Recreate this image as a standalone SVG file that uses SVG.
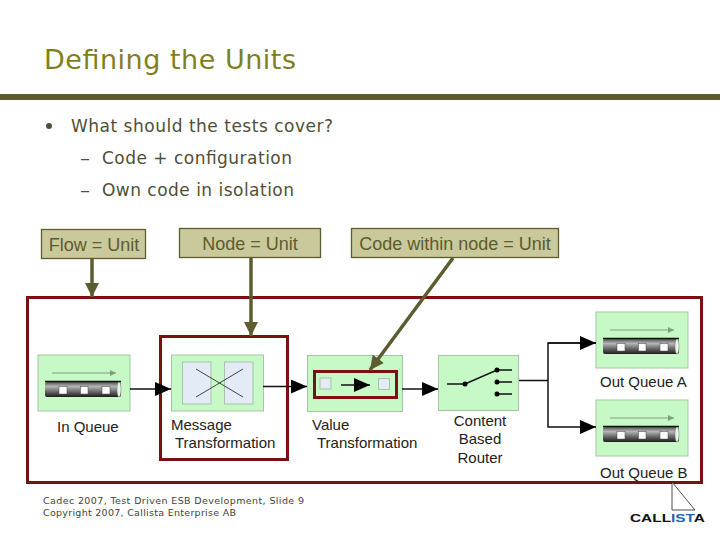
<svg xmlns="http://www.w3.org/2000/svg" xmlns:xlink="http://www.w3.org/1999/xlink" width="720" height="540" viewBox="0 0 720 540">
<style>
.ver{font-family:"DejaVu Sans",Verdana,sans-serif}
.ar{font-family:"Liberation Sans",Arial,sans-serif}
.title{font-size:27px;fill:#7f7f20}
.body{font-size:17px;fill:#4f4f38}
.foot{font-size:9.5px;fill:#444438}
.lbl{font-size:15px;fill:#222}
.call{font-size:18px;fill:#5c5c30}
.panel{fill:#c6f9c6;stroke:#a5c5a5;stroke-width:1}
.callbox{fill:#c9c99b;stroke:#5c5c30;stroke-width:1.3}
.frame{fill:none;stroke:#7a1010;stroke-width:3}
.conn{fill:none;stroke:#111;stroke-width:1.5}
.ol{fill:none;stroke:#5c5c30;stroke-width:3.5}
.inner{fill:#e2ebf6;stroke:#a5c5a5;stroke-width:1}
</style>
<defs>
<linearGradient id="tube" x1="0" y1="0" x2="0" y2="1">
<stop offset="0" stop-color="#555"/><stop offset="0.3" stop-color="#b5b5b5"/><stop offset="0.65" stop-color="#666"/><stop offset="1" stop-color="#1c1c1c"/>
</linearGradient>
<marker id="ah" markerUnits="userSpaceOnUse" markerWidth="17" markerHeight="14" refX="16" refY="7" orient="auto"><path d="M0 0L16 7L0 14Z" fill="#000"/></marker>
<marker id="oh" markerUnits="userSpaceOnUse" markerWidth="15" markerHeight="14" refX="14" refY="7" orient="auto"><path d="M0 0L14 7L0 14Z" fill="#5c5c30"/></marker>
<marker id="thin" markerUnits="userSpaceOnUse" markerWidth="7" markerHeight="6" refX="6" refY="3" orient="auto"><path d="M0 0L6 3L0 6Z" fill="#7f9f7f"/></marker>
<g id="queue">
<rect class="panel" x="0" y="0" width="92" height="56"/>
<path d="M14 18H78" stroke="#7f9f7f" stroke-width="1" fill="none" marker-end="url(#thin)"/>
<rect x="7" y="27" width="76" height="15" rx="2" fill="url(#tube)"/>
<path d="M7 26.500H83" stroke="#111" stroke-width="1.500"/>
<ellipse cx="81" cy="34.500" rx="2" ry="7.500" fill="#e8f5e8" stroke="#777" stroke-width=".5"/>
<rect x="21" y="31.500" width="8" height="7.500" fill="#fff" stroke="#444" stroke-width=".5"/>
<rect x="42.500" y="31.500" width="7.500" height="7.500" fill="#fff" stroke="#444" stroke-width=".5"/>
<rect x="64" y="31.500" width="8" height="7.500" fill="#fff" stroke="#444" stroke-width=".5"/>
</g>
</defs>
<rect width="720" height="540" fill="#fff"/>

<g id="heading">
<text class="ver title" x="44" y="69" textLength="252">Defining the Units</text>
<rect x="0" y="94" width="720" height="6" fill="#5c5c30"/>
<circle cx="49" cy="126" r="3" fill="#4f4f38"/>
<text class="ver body" x="71" y="132" textLength="262">What should the tests cover?</text>
<text class="ver body" x="80" y="164" textLength="10" lengthAdjust="spacingAndGlyphs">–</text>
<text class="ver body" x="102" y="164" textLength="190">Code + configuration</text>
<text class="ver body" x="80" y="196" textLength="10" lengthAdjust="spacingAndGlyphs">–</text>
<text class="ver body" x="102" y="196" textLength="192">Own code in isolation</text>
</g>

<rect id="flow-frame" class="frame" x="27.500" y="297.500" width="674" height="185"/>

<g id="in-queue">
<use xlink:href="#queue" href="#queue" x="38" y="355"/>
<text class="ar lbl" x="57" y="432">In Queue</text>
</g>
<g id="message-transformation">
<rect class="panel" x="171.500" y="355" width="92" height="56"/>
<rect class="inner" x="182.500" y="362" width="28.500" height="42"/>
<rect class="inner" x="224.500" y="362" width="28.500" height="42"/>
<path d="M196 369L243 397M196 397L243 369" stroke="#444" stroke-width="1" fill="none"/>
<rect class="frame" x="160.500" y="336.500" width="127" height="123"/>
<text class="ar lbl" x="171" y="430">Message</text>
<text class="ar lbl" x="175" y="448">Transformation</text>
</g>
<g id="value-transformation">
<rect class="panel" x="307.500" y="355.500" width="95" height="56"/>
<rect class="inner" x="320" y="378" width="11" height="11"/>
<rect class="inner" x="378.500" y="378.500" width="11" height="11"/>
<path d="M341 385H370" class="conn" marker-end="url(#ah)"/>
<rect class="frame" x="314.500" y="371.500" width="82" height="26"/>
<text class="ar lbl" x="312" y="430">Value</text>
<text class="ar lbl" x="317" y="448">Transformation</text>
</g>
<g id="content-based-router">
<rect class="panel" x="438.500" y="355.500" width="80" height="55"/>
<path d="M447 384H465L497 370H512M497 382H512M497 394H512" fill="none" stroke="#111" stroke-width="1.500"/>
<circle cx="465" cy="384" r="2.500"/><circle cx="497" cy="370" r="2.500"/><circle cx="497" cy="382" r="2.500"/><circle cx="497" cy="394" r="2.500"/>
<text class="ar lbl" x="480" y="426" text-anchor="middle">Content</text>
<text class="ar lbl" x="480" y="444" text-anchor="middle">Based</text>
<text class="ar lbl" x="480" y="463" text-anchor="middle">Router</text>
</g>
<g id="out-queue-a">
<use xlink:href="#queue" href="#queue" x="596" y="312"/>
<text class="ar lbl" x="600" y="387">Out Queue A</text>
</g>
<g id="out-queue-b">
<use xlink:href="#queue" href="#queue" x="596" y="400"/>
<text class="ar lbl" x="600" y="478">Out Queue B</text>
</g>

<g id="connectors">
<path class="conn" d="M130 389H171" marker-end="url(#ah)"/>
<path class="conn" d="M263 386.500H307" marker-end="url(#ah)"/>
<path class="conn" d="M402 389H438" marker-end="url(#ah)"/>
<path class="conn" d="M519 380.500H548"/>
<path class="conn" d="M596 343H548V427H596" marker-end="url(#ah)"/>
<path class="conn" d="M548 343H596" marker-end="url(#ah)"/>
<path class="ol" d="M92 258V297" marker-end="url(#oh)"/>
<path class="ol" d="M251 258V336" marker-end="url(#oh)"/>
<path class="ol" d="M453 258L370 370" marker-end="url(#oh)"/>
</g>

<g id="flow-unit">
<rect class="callbox" x="41.500" y="229.500" width="104" height="29"/>
<text class="ar call" x="94" y="250.500" text-anchor="middle">Flow = Unit</text>
</g>
<g id="node-unit">
<rect class="callbox" x="179.500" y="228.500" width="141" height="29"/>
<text class="ar call" x="250" y="249.500" text-anchor="middle">Node = Unit</text>
</g>
<g id="code-unit">
<rect class="callbox" x="351.500" y="228.500" width="207" height="29"/>
<text class="ar call" x="455" y="249.500" text-anchor="middle">Code within node = Unit</text>
</g>

<g id="footer">
<text class="ver foot" x="43" y="504" textLength="261">Cadec 2007, Test Driven ESB Development, Slide  9</text>
<text class="ver foot" x="43" y="516" textLength="193">Copyright 2007, Callista Enterprise AB</text>
</g>
<g id="logo">
<path d="M672 482V510H695Z" fill="#fff" stroke="#222" stroke-width=".8"/>
<text class="ar" x="630" y="522" font-size="10.500" font-weight="700" textLength="75" lengthAdjust="spacingAndGlyphs" fill="#111">CALL<tspan fill="#2a5fb0">IST</tspan>A</text>
</g>
</svg>
